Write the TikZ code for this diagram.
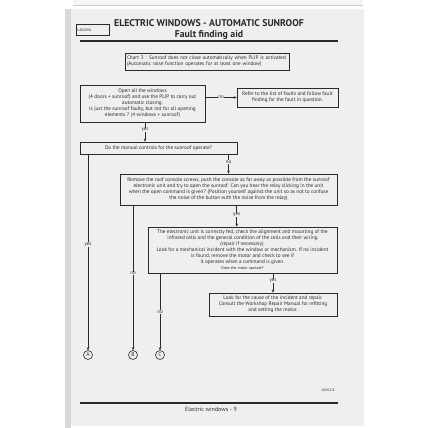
\documentclass[tikz,border=0pt]{standalone}
\usepackage{fontspec}
\setmainfont{PT Sans}
\usetikzlibrary{arrows.meta,calc}
\definecolor{pagebg}{HTML}{EFEFEF}
\definecolor{ink}{HTML}{2A2A2A}
\tikzset{
  box/.style={draw=ink, line width=0.8pt, inner sep=0pt, align=center, text=ink,
    font=\fontsize{5.2}{6}\selectfont},
  arr/.style={draw=ink, line width=0.6pt, -{Stealth[length=3pt,width=2.6pt]}},
  lbl/.style={fill=pagebg, inner sep=0.6pt, text=ink, font=\fontsize{5}{5.5}\selectfont},
  circ/.style={circle, draw=ink, line width=0.6pt, minimum size=9pt, inner sep=0pt, text=ink,
    font=\fontsize{5.5}{6}\selectfont},
}
\begin{document}
\begin{tikzpicture}[x=1pt,y=-1pt]
\useasboundingbox (0,0) rectangle (428,428);
\fill[white] (0,0) rectangle (428,428);
% page and shadow
\fill[gray!8] (73,0) rectangle (363,5);
\draw[gray!40, line width=0.5pt] (73,5) -- (363,5);
\fill[gray!30] (65,9) rectangle (71,428);
\fill[pagebg] (71,9) rectangle (364,426);
% header
\node[draw=ink, line width=0.6pt, minimum width=33pt, minimum height=11pt, inner sep=1pt,
  text=ink, font=\fontsize{3.8}{4}\selectfont, anchor=north west, align=left, text width=31pt] (laguna) at (76,24) {LAGUNA};
\node[text=ink, font=\fontsize{9.8}{10}\bfseries\selectfont] (title) at (209,23) {ELECTRIC WINDOWS - AUTOMATIC SUNROOF};
\node[text=ink, font=\fontsize{9.8}{10}\bfseries\selectfont] (sub) at (209,35) {Fault finding aid};
\draw[ink, line width=1.4pt] (80,41) -- (338,41);
% boxes
\node[box, minimum width=164pt, minimum height=17pt, align=left, text width=160pt] (chart) at (207,61.5)
 {Chart 3 : Sunroof does not close automatically when PLIP is activated\\(Automatic raise function operates for at least one window)};
\node[box, minimum width=125pt, minimum height=37pt] (b1) at (142.5,103.5)
 {Open all the windows\\(4 doors + sunroof) and use the PLIP to carry out\\automatic closing.\\Is just the sunroof faulty, but not for all opening\\elements ? (4 windows + sunroof)};
\node[box, minimum width=101pt, minimum height=19pt] (b2) at (287.5,97.5)
 {Refer to the list of faults and follow fault\\finding for the fault in question.};
\node[box, minimum width=157pt, minimum height=12pt] (b3) at (158.5,148)
 {Do the manual controls for the sunroof operate?};
\node[box, minimum width=217pt, minimum height=31pt] (b4) at (228.5,189.5)
 {Remove the roof console screws, push the console as far away as possible from the sunroof\\electronic unit and try to open the sunroof. Can you hear the relay clicking in the unit\\when the open command is given? (Position yourself against the unit so as not to confuse\\the noise of the button with the noise from the relay)};
\node[box, minimum width=189pt, minimum height=46pt] (b5) at (242.5,250)
 {The electronic unit is correctly fed, check the alignment and mounting of the\\infrared cells and the general condition of the cells and their wiring\\(repair if necessary).\\Look for a mechanical incident with the window or mechanism. If no incident\\is found, remove the motor and check to see if\\it operates when a command is given.\\{\fontsize{4}{5}\selectfont Does the motor operate?}};
\node[box, minimum width=128pt, minimum height=23pt] (b6) at (273,304.5)
 {Look for the cause of the incident and repair.\\Consult the Workshop Repair Manual for refitting\\and setting the motor.};
% end circles
\node[circ] (A) at (88,355) {A};
\node[circ] (B) at (133,355) {B};
\node[circ] (C) at (160,355) {C};
% connectors
\draw[arr] (b2.west -| b1.east) -- node[lbl]{no} (b2.west);
\coordinate (s1) at ($(b1.south)+(2.5,0)$);
\draw[arr] (s1) -- node[lbl, pos=0.4]{yes} (s1 |- b3.north);
\draw[arr] (b3.south -| b4.north) -- node[lbl, pos=0.4]{no} (b4.north);
\draw[arr] (b3.south -| A.north) -- node[lbl, pos=0.46]{yes} (A.north);
\draw[arr] (b4.south -| B.north) -- node[lbl, pos=0.47]{no} (B.north);
\coordinate (s4) at ($(b4.south)+(8.2,0)$);
\draw[arr] (s4) -- node[lbl, pos=0.45]{yes} (s4 |- b5.north);
\draw[arr] (b5.south -| C.north) -- node[lbl, pos=0.5]{no} (C.north);
\draw[arr] (b5.south -| b6.north) -- node[lbl, pos=0.4]{yes} (b6.north);
% footer
\node[text=ink, font=\fontsize{3.8}{4}\selectfont] (ref) at (328,390) {16562.X};
\draw[ink, line width=1.4pt] (80,403) -- (338,403);
\node[text=ink, font=\fontsize{6}{6}\selectfont] (foot) at (211,409.5) {Electric windows - 9};
\end{tikzpicture}
\end{document}
